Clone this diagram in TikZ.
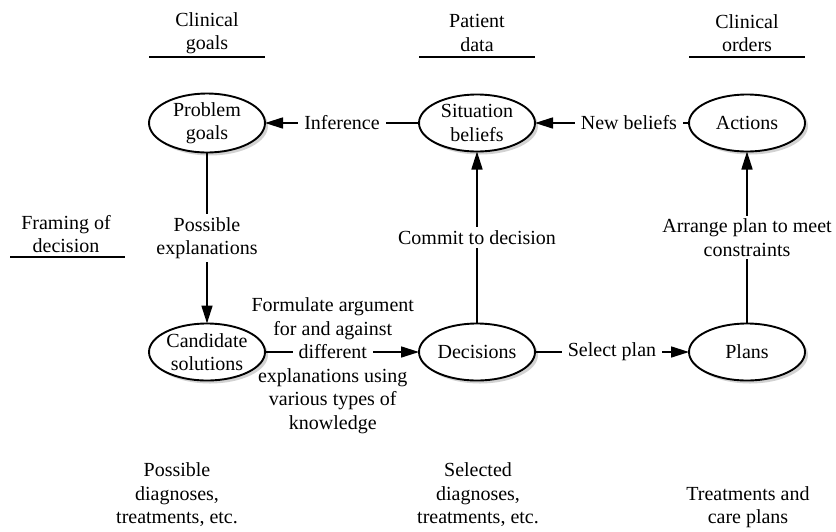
\documentclass[tikz,border=0pt]{standalone}
\usepackage{fontspec}
\setmainfont{Liberation Serif}
\usetikzlibrary{shapes.geometric,arrows.meta,shadows}
\begin{document}
\begin{tikzpicture}[x=1pt,y=-1pt,
  txt/.style={font=\fontsize{20}{23.5}\selectfont, align=center, inner sep=0pt},
  state/.style={txt, ellipse, draw, line width=1.9pt, fill=white,
    minimum width=116pt, minimum height=57pt, inner sep=0pt, outer sep=0pt,
    drop shadow={shadow xshift=3pt, shadow yshift=-3pt, fill=black!35}},
  flow/.style={line width=1.6pt, -{Triangle[length=18pt,width=11pt]}},
  gap/.style={fill=white, inner xsep=6pt, inner ysep=3pt},
  rule/.style={line width=1.4pt}]
\useasboundingbox (0,0) rectangle (836,531);

% states
\node[state] (prob) at (207,123) {Problem\\goals};
\node[state] (sit)  at (477,123) {Situation\\beliefs};
\node[state] (act)  at (747,123) {Actions};
\node[state] (cand) at (207,352) {Candidate\\solutions};
\node[state] (dec)  at (477,352) {Decisions};
\node[state] (plan) at (747,352) {Plans};

% column headings
\node[txt] (hgoal)  at (207,33) {Clinical\\goals};
\node[txt] (hdata)  at (477,33) {Patient\\data};
\node[txt] (horder) at (747,33) {Clinical\\orders};
\coordinate (ruleA) at (0,57);
\draw[rule] (prob.west |- ruleA) -- (prob.east |- ruleA);
\draw[rule] (sit.west |- ruleA) -- (sit.east |- ruleA);
\draw[rule] (act.west |- ruleA) -- (act.east |- ruleA);

% row heading
\node[txt] (frame) at (66,234) {Framing of\\decision};
\draw[rule] (10,257) -- (125,257);

% flows
\draw[flow] (sit) -- node[txt,gap] (inf) {Inference} (prob);
\draw[flow] (act) -- node[txt,gap,pos=0.39] (newb) {New beliefs} (sit);
\draw[flow] (prob) -- node[txt,gap] (posx) {Possible\\explanations} (cand);
\draw[flow] (dec) -- node[txt,gap] (commit) {Commit to decision} (sit);
\draw[flow] (plan) -- node[txt,gap] (arr) {Arrange plan to meet\\constraints} (act);
\draw[flow] (cand) -- node[txt,gap,pos=0.44] (diff) {different} (dec);
% the multi-line parts of the argument label, anchored on their last baselines
\node[txt,anchor=base] (formA) at ([yshift=23.5pt]diff.base) {Formulate argument\\for and against};
\node[txt,anchor=base] (formB) at ([yshift=-70.5pt]diff.base) {explanations using\\various types of\\knowledge};
\draw[flow] (dec) -- node[txt,gap] (sel) {Select plan} (plan);

% outputs
\node[txt] (out1) at (177,495) {Possible\\diagnoses,\\treatments, etc.};
\node[txt] (out2) at (478,495) {Selected\\diagnoses,\\treatments, etc.};
\node[txt] (out3) at (748,507) {Treatments and\\care plans};
\end{tikzpicture}
\end{document}
